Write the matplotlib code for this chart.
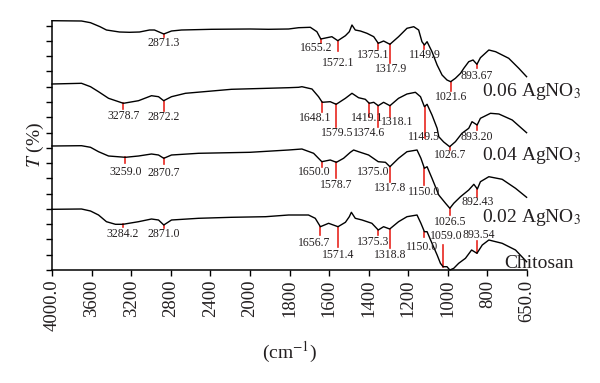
import numpy as np
import matplotlib.pyplot as plt

plt.rcParams['font.family'] = ['Liberation Serif', 'DejaVu Serif']
plt.rcParams['mathtext.fontset'] = 'stix'

# ---- spectra (wavenumber in cm-1, transmittance with offsets, arb. units) ----
wn_06 = [4000, 3702, 3611, 3515, 3450, 3318, 3217, 3116, 3015, 2965, 2871, 2793, 2692, 2389, 2000,
         1910, 1812, 1763, 1706, 1674, 1655, 1625, 1601, 1572, 1535, 1516, 1503, 1487, 1462, 1430,
         1397, 1375, 1349, 1318, 1276, 1235, 1202, 1178, 1162, 1150, 1137, 1113, 1088, 1064, 1040,
         1022, 999, 974, 958, 934, 913, 894, 877, 836, 803, 739, 690, 652]
t_06 = [249.3, 249, 247.3, 243.3, 240, 238, 237.7, 238, 240, 240, 236, 239, 240, 240.7, 241,
        240.7, 241, 242.3, 242.7, 238.3, 231, 232.3, 233.3, 229.3, 234.3, 238.3, 245, 240, 239, 236.7,
        233.3, 226.7, 229, 225.7, 233.3, 241.7, 243.3, 240, 228.3, 225, 228.3, 218.3, 205, 195, 190,
        188.3, 191.7, 196.7, 201.7, 208.3, 210, 205.7, 212.3, 220, 218.3, 211.7, 201.7, 193.3]

wn_04 = [4000, 3702, 3611, 3530, 3429, 3279, 3126, 2995, 2924, 2872, 2793, 2652, 2187,
         1812, 1763, 1747, 1698, 1666, 1648, 1609, 1580, 1535, 1503, 1471, 1438, 1419, 1397,
         1375, 1349, 1318, 1276, 1235, 1194, 1169, 1150, 1137, 1113, 1088, 1080, 1056, 1027,
         999, 967, 934, 918, 893, 877, 828, 787, 722, 652]
t_04 = [186, 186.7, 183.3, 178.3, 171.7, 166.7, 169.3, 174.3, 173.3, 169.3, 173.3, 176.7, 180.7,
        182.3, 182.7, 183.3, 181, 173.3, 167.7, 168.3, 165.7, 171.7, 176.7, 172.3, 170.7, 166.7, 167.7,
        164.3, 167.7, 164.3, 171.7, 176, 177.7, 173.3, 163.3, 165.7, 155, 141.7, 133.3, 128, 123.3,
        128.3, 136.7, 141.7, 148.3, 145, 151.7, 156.7, 156, 150, 137.3]

wn_02 = [4000, 3702, 3611, 3530, 3429, 3259, 3126, 2995, 2924, 2871, 2793, 2520, 2000,
         1812, 1747, 1690, 1650, 1609, 1579, 1544, 1511, 1495, 1471, 1422, 1375, 1340, 1318,
         1276, 1235, 1186, 1167, 1150, 1137, 1113, 1080, 1047, 1026, 1007, 974, 934, 909,
         892, 877, 836, 771, 706, 652]
t_02 = [124, 124.3, 122.7, 118.3, 114, 112.7, 114, 116, 115, 111.7, 115, 116.7, 117.7,
        120, 121, 116.7, 108.3, 110, 107.7, 111.7, 117.7, 120, 118.3, 115, 108.3, 107.7, 103.3,
        111.7, 118.3, 120, 111.7, 101.7, 103.3, 91.7, 75, 66.7, 61.7, 66.7, 73.3, 80, 85.7,
        81, 88.3, 93.3, 90.7, 81.7, 72.7]

wn_ch = [4000, 3702, 3611, 3530, 3450, 3359, 3284, 3126, 2995, 2924, 2871, 2793, 2520, 2187,
         1924, 1812, 1715, 1682, 1657, 1617, 1571, 1535, 1516, 1506, 1487, 1454, 1406, 1375,
         1349, 1319, 1276, 1235, 1186, 1167, 1150, 1137, 1113, 1088, 1072, 1059, 1040, 1026,
         1007, 983, 950, 920, 894, 868, 836, 771, 706, 652]
t_ch = [60.7, 61, 59, 55, 48.3, 45.7, 45.7, 48.3, 51, 50, 45, 50, 51.7, 52.7,
        53.3, 55, 55, 51.7, 43.3, 46.7, 43.3, 47.7, 53.3, 57.7, 51.7, 50, 46.7, 40,
        43.3, 41, 48.3, 53.3, 55, 46.7, 38.3, 38.3, 26.7, 15, 6.7, 3.3, 3.3, 0,
        1.7, 6.7, 11.7, 20, 16.7, 25, 30, 26.7, 20, 8.3]

# peak labels
peaks_06 = ["2871.3", "1655.2", "1572.1", "1375.1", "1317.9", "1149.9", "1021.6", "893.67"]
peaks_04 = ["3278.7", "2872.2", "1648.1", "1579.5", "1419.1", "1374.6", "1318.1", "1149.5",
            "1026.7", "893.20"]
peaks_02 = ["3259.0", "2870.7", "1650.0", "1578.7", "1375.0", "1317.8", "1150.0", "1026.5",
            "892.43"]
peaks_ch = ["3284.2", "2871.0", "1656.7", "1571.4", "1375.3", "1318.8", "1150.0", "1059.0",
            "893.54"]

# (red mark length, label dx, label dy) in pixels; negative length = mark drawn upwards
marks_06 = [(3, 0, 6), (4.3, -5, 5), (10.3, 0, 12), (6, -5, 6), (18.7, 1, 6.5),
            (4, 0, 6.5), (9, 0, 6), (3.7, 0, 8)]
marks_04 = [(6, 0, 7), (10, 0, 6.6), (9.4, -7.5, 6.6), (22.4, 1, 6.6), (13.4, -2, 1.6),
            (21, -9, 6.6), (11, 7.5, 5.6), (31.6, -1, -1.6), (3, 0, 5.3), (5, 0, 6.7)]
marks_02 = [(5.7, 0, 8.7), (5.7, 0, 8.7), (5, -8, 5), (16, 0, 6.7), (0, -5, 10),
            (15, 0, 6.6), (16.7, 0, 6.7), (7, 0, 6.6), (7.7, 0, 5)]
marks_ch = [(2.4, 0, 7.3), (3.3, 0, 5.7), (8.3, -6.6, 8.3), (20, 0, 8.3), (5, -5, 6.7),
            (19.3, 0.7, 6.7), (5, -2.4, 10), (-21.7, 3, -9), (-12, 1.5, -6)]

series_labels = ["0.06 AgNO$_3$", "0.04 AgNO$_3$", "0.02 AgNO$_3$", "Chitosan"]
label_pos = [(0.905, 0.714), (0.905, 0.461), (0.905, 0.209), (0.952, 0.028)]

x_ticks_left = [4000, 3600, 3200, 2800, 2400, 2000]
x_labels = ["4000.0", "3600", "3200", "2800", "2400", "2000",
            "1800", "1600", "1400", "1200", "1000", "800", "650.0"]

RED = "#e8261f"
INK = "#231f20"
K = 0.4825  # compression of the region above 2000 cm-1


def forward(w):
    w = np.asarray(w, dtype=float)
    return np.where(w > 2000, 2000 + (w - 2000) * K, w)


def inverse(u):
    u = np.asarray(u, dtype=float)
    return np.where(u > 2000, 2000 + (u - 2000) / K, u)


fig = plt.figure(figsize=(6, 3.83), dpi=100)
ax = fig.add_axes([52 / 600, 113 / 383, 475 / 600, 249.3 / 383])
ax.set_xscale('function', functions=(forward, inverse))

spectra = [(wn_06, t_06, peaks_06, marks_06), (wn_04, t_04, peaks_04, marks_04),
           (wn_02, t_02, peaks_02, marks_02), (wn_ch, t_ch, peaks_ch, marks_ch)]

for (wn, t, peaks, marks), name, (lx, ly) in zip(spectra, series_labels, label_pos):
    ax.plot(wn, t, color="black", lw=1.0, clip_on=False, zorder=3)
    wn_r = np.array(wn[::-1], dtype=float)
    t_r = np.array(t[::-1], dtype=float)
    for p, (length, dx, dy) in zip(peaks, marks):
        pw = float(p)
        top = np.interp(pw, wn_r, t_r)
        end = top - length
        if length != 0:
            ax.plot([pw, pw], [top, end], color=RED, lw=1.2, zorder=2, clip_on=False)
        ax.annotate(p, xy=(pw, end), xytext=(dx, -dy), textcoords='offset pixels',
                    ha='center', va='center', fontsize=8.5,
                    color=INK, annotation_clip=False)
    ax.text(lx, ly, name, transform=ax.transAxes, fontsize=14, color=INK,
            ha='left', va='center', clip_on=False)

ax.set_xlim(4000, 650)
ax.set_ylim(0, 249.3)

# the source figure spaces its tick labels evenly below 2000 cm-1
right_ticks = list(np.linspace(2000, 650, 8)[1:])
ax.set_xticks(x_ticks_left + right_ticks)
ax.set_xticklabels(x_labels, rotation=90, fontsize=13.5, color=INK)
ax.set_yticks(np.arange(17) * 15.27)
ax.set_yticklabels([])
ax.minorticks_off()

ax.tick_params(axis='x', direction='out', length=4, width=1.0, pad=3)
ax.tick_params(axis='y', direction='out', length=4, width=1.0)
for side in ['top', 'right']:
    ax.spines[side].set_visible(False)
for side in ['left', 'bottom']:
    ax.spines[side].set_linewidth(1.1)

ax.set_ylabel("$T$ (%)", fontsize=14, color=INK, labelpad=-3)
ax.set_xlabel("(cm$^{-1}$)", fontsize=14, color=INK, labelpad=6)

fig.savefig("out.png", dpi=100)
